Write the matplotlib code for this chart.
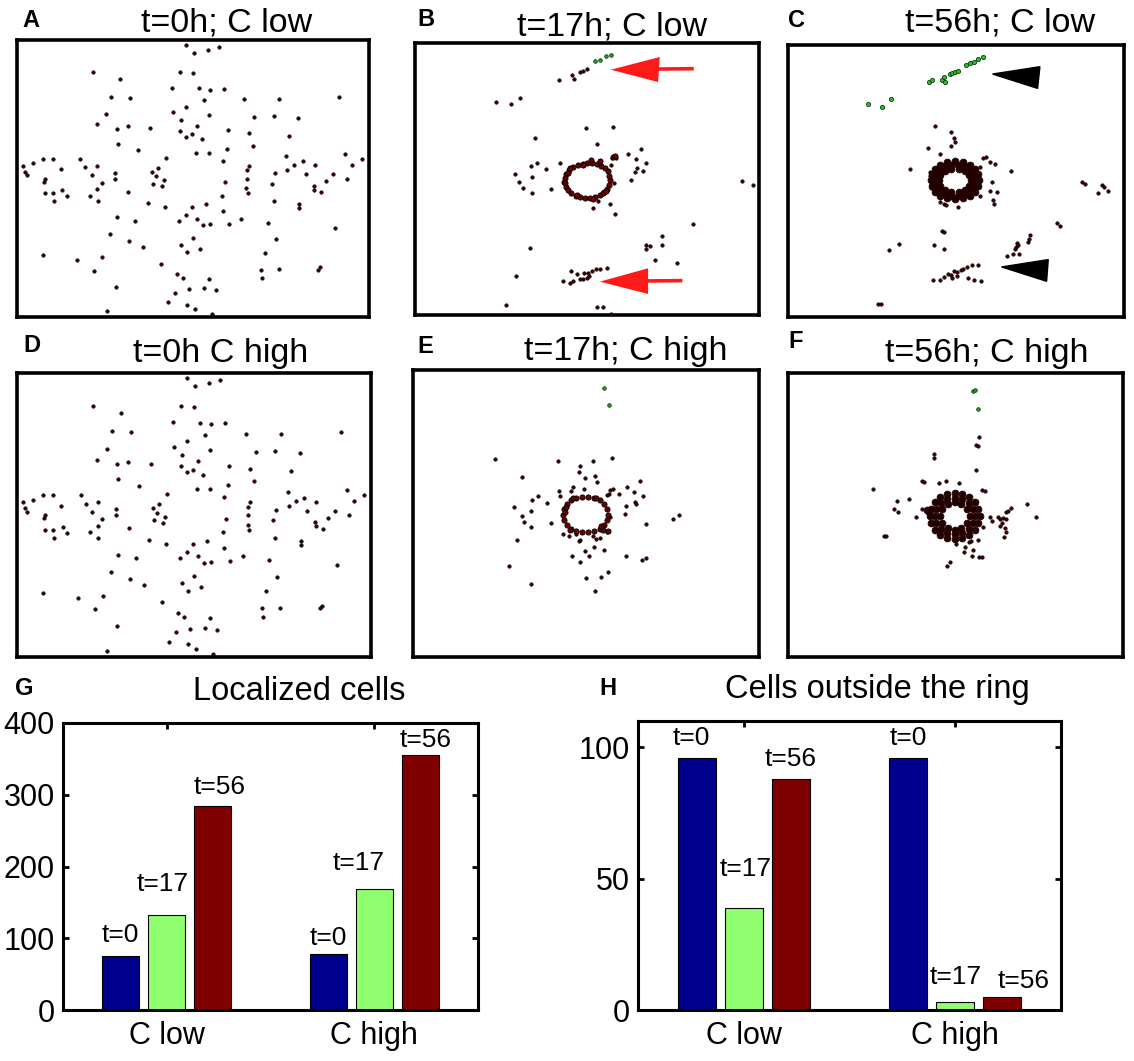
import matplotlib
matplotlib.use('Agg')
import matplotlib.pyplot as plt
from matplotlib.patches import Polygon

plt.rcParams['font.family'] = ['Liberation Sans', 'DejaVu Sans']

# ---------------- data ----------------
# initial (t=0) cell positions, read in panel-A image coordinates (same layout in A and D)
t0_x = [558, 583, 624, 657, 277, 541, 578, 361, 516, 598, 631, 671, 333, 391, 611, 733, 838, 1017,
        559, 518, 319, 627, 763, 821, 895, 290, 543, 350, 383, 451, 592, 541, 575, 559, 605, 685,
        747, 869, 353, 415, 759, 680, 588, 628, 860, 1035, 129, 158, 240, 98, 498, 669, 909, 1087,
        67, 73, 79, 182, 255, 291, 474, 457, 467, 746, 883, 945, 1056, 862, 275, 345, 824, 918,
        1000, 133, 130, 346, 492, 740, 1043, 304, 458, 485, 675, 740, 816, 978, 942, 291, 739, 186,
        944, 965, 135, 157, 199, 268, 385, 743, 666, 162, 292, 445, 822, 617, 898, 494, 575, 898,
        668, 351, 557, 405, 538, 592, 609, 629, 688, 724, 803, 1007, 331, 387, 580, 827, 430, 544,
        599, 561, 795, 129, 231, 306, 482, 282, 531, 548, 626, 782, 837, 961, 955, 786, 348, 566,
        612, 649, 524, 504, 561, 584, 320, 636]
t0_y = [135, 158, 150, 140, 217, 216, 220, 237, 263, 265, 269, 267, 290, 293, 300, 298, 297, 291,
        320, 336, 343, 345, 351, 348, 353, 373, 361, 387, 379, 385, 377, 392, 403, 410, 418, 391,
        400, 407, 431, 449, 437, 446, 460, 458, 468, 463, 478, 476, 476, 490, 475, 483, 484, 477,
        498, 515, 526, 508, 502, 497, 503, 515, 529, 497, 494, 496, 495, 509, 526, 518, 520, 522,
        522, 535, 545, 536, 540, 511, 535, 548, 551, 558, 546, 535, 551, 543, 556, 566, 563, 569,
        568, 576, 579, 579, 587, 586, 574, 578, 586, 603, 602, 607, 601, 610, 610, 619, 621, 622,
        632, 651, 643, 661, 662, 656, 674, 671, 670, 656, 667, 682, 702, 722, 714, 716, 740, 734,
        745, 756, 758, 763, 778, 771, 790, 811, 820, 832, 836, 808, 806, 800, 808, 834, 859, 867,
        864, 870, 878, 906, 913, 926, 933, 942]

# panel B (t=17h, C low)
b_green_x = [585, 600, 618, 633]
b_green_y = [185, 182, 168, 166]
b_x = [477, 517, 523, 540, 548, 563, 288, 333, 360, 558, 641, 406, 592, 724, 686, 710, 738, 713, 707,
       731, 694, 644, 648, 636, 633, 411, 394, 439, 480, 344, 396, 358, 370, 453, 396, 642, 594, 581,
       632, 647, 1026, 1060, 880, 787, 740, 750, 787, 740, 766, 833, 391, 348, 514, 530, 553, 566,
       576, 588, 600, 622, 489, 509, 520, 540, 548, 560, 567, 318, 591, 611, 634]
b_y = [240, 227, 238, 218, 214, 208, 306, 313, 296, 386, 383, 416, 434, 447, 464, 478, 489, 505, 518,
       513, 541, 470, 474, 476, 497, 491, 500, 509, 489, 523, 533, 547, 564, 566, 578, 548, 603, 623,
       613, 643, 544, 555, 673, 709, 734, 737, 736, 748, 779, 788, 743, 828, 812, 822, 818, 818, 812,
       808, 806, 804, 844, 848, 842, 836, 838, 834, 828, 916, 920, 920, 941]
b_ring_x = [631, 629, 624, 616, 605, 592, 578, 563, 548, 533, 520, 508, 499, 494, 493, 497, 504, 514,
            527, 541, 556, 571, 586, 600, 612, 622, 628, 575, 600, 510, 495, 530, 580, 610, 620, 505,
            550, 640, 645]
b_ring_y = [541, 528, 515, 505, 498, 494, 491, 490, 492, 496, 502, 511, 522, 534, 547, 560, 571, 580,
            587, 592, 595, 594, 591, 585, 577, 567, 555, 480, 484, 505, 550, 585, 598, 578, 572, 520,
            497, 473, 470]

# panel C (t=56h, C low)
c_green_x = [478, 486, 518, 522, 525, 540, 548, 555, 565, 588, 600, 612, 625, 638, 295, 338, 365]
c_green_y = [246, 240, 240, 232, 245, 222, 220, 215, 212, 195, 190, 185, 178, 172, 312, 320, 298]
c_x = [497, 545, 552, 557, 545, 476, 512, 640, 648, 660, 676, 630, 722, 421, 480, 482, 485, 665, 660,
       682, 668, 672, 631, 512, 522, 530, 563, 935, 946, 996, 1002, 985, 1015, 862, 870, 518, 522,
       387, 358, 494, 523, 780, 778, 775, 742, 738, 745, 735, 710, 730, 748, 490, 510, 522, 535, 545,
       552, 560, 572, 580, 592, 605, 625, 548, 560, 595, 612, 632, 325, 333]
c_y = [377, 397, 413, 427, 438, 445, 461, 474, 472, 485, 492, 500, 512, 508, 515, 528, 562, 545, 572,
       576, 598, 612, 588, 604, 610, 614, 621, 545, 550, 555, 560, 578, 572, 667, 677, 692, 694, 730,
       750, 735, 747, 703, 715, 725, 728, 740, 735, 745, 767, 760, 762, 840, 840, 830, 820, 825, 812,
       816, 808, 805, 800, 795, 793, 832, 828, 832, 840, 842, 910, 910]
c_ring_x = [627, 624, 615, 600, 580, 556, 532, 512, 497, 487, 484, 487, 497, 512, 532, 556, 580, 600,
            615, 624, 615, 611, 600, 584, 565, 545, 526, 510, 499, 495, 499, 510, 526, 545, 565, 584,
            600, 611, 603, 598, 585, 566, 545, 526, 512, 507, 512, 526, 545, 566, 585, 598]
c_ring_y = [540, 522, 506, 494, 486, 484, 486, 494, 506, 522, 540, 558, 574, 586, 594, 597, 594, 586,
            574, 558, 540, 523, 509, 499, 495, 495, 499, 509, 523, 540, 557, 571, 581, 586, 586, 581,
            571, 557, 540, 524, 512, 506, 506, 512, 524, 540, 556, 568, 574, 574, 568, 556]

# panel E (t=17h, C high)
e_green_x = [612, 627]
e_green_y = [203, 255]
e_x = [285, 475, 540, 579, 636, 537, 557, 587, 591, 366, 720, 682, 704, 731, 705, 710, 678, 675, 630,
       640, 627, 623, 657, 520, 552, 515, 477, 480, 414, 396, 443, 342, 393, 368, 374, 393, 453, 490,
       507, 530, 540, 537, 579, 590, 600, 352, 740, 820, 837, 582, 557, 568, 613, 517, 542, 678, 728,
       740, 328, 626, 603, 559, 395, 586, 630, 623]
e_y = [416, 422, 437, 422, 415, 455, 475, 468, 485, 472, 483, 502, 515, 527, 545, 552, 557, 581, 510,
       508, 523, 526, 521, 500, 507, 513, 512, 528, 528, 540, 548, 562, 573, 588, 606, 620, 607, 640,
       647, 640, 658, 662, 646, 655, 652, 660, 612, 596, 585, 679, 692, 706, 689, 707, 725, 706, 718,
       713, 737, 755, 771, 773, 790, 813, 590, 635]
e_ring_x = [624, 621, 613, 600, 584, 566, 548, 530, 514, 501, 493, 490, 493, 501, 514, 530, 548, 566,
            584, 600, 613, 621, 625, 610, 495, 500, 520, 590, 603, 512]
e_ring_y = [583, 566, 551, 540, 533, 530, 530, 533, 540, 551, 566, 583, 600, 615, 626, 633, 636, 636,
            633, 626, 615, 600, 633, 628, 575, 560, 535, 535, 617, 628]

# panel F (t=56h, C high)
f_green_x = [610, 615, 625]
f_green_y = [213, 208, 265]
f_x = [628, 620, 626, 492, 493, 619, 458, 464, 508, 530, 568, 637, 645, 310, 382, 418, 374, 386, 458,
       438, 343, 350, 660, 668, 640, 684, 690, 700, 710, 716, 725, 698, 706, 709, 704, 710, 690, 772,
       798, 558, 598, 604, 624, 585, 583, 611, 606, 628, 636, 542, 531]
f_y = [350, 376, 378, 402, 413, 450, 482, 486, 490, 484, 488, 511, 513, 508, 543, 538, 568, 575, 567,
       592, 647, 648, 592, 603, 622, 590, 597, 593, 575, 572, 565, 608, 623, 637, 652, 597, 617, 551,
       590, 673, 667, 664, 660, 682, 695, 690, 708, 710, 712, 725, 738]
f_ring_x = [630, 626, 615, 597, 577, 555, 533, 512, 495, 484, 480, 484, 495, 512, 533, 555, 577, 597,
            615, 626, 615, 610, 597, 578, 555, 532, 513, 500, 495, 500, 513, 532, 555, 578, 597, 610,
            600, 592, 575, 555, 535, 518, 510, 518, 535, 555, 575, 592, 478, 472]
f_ring_y = [588, 566, 546, 531, 523, 520, 523, 531, 546, 566, 588, 610, 630, 645, 653, 656, 653, 645,
            630, 610, 588, 566, 548, 537, 533, 537, 548, 566, 588, 610, 628, 639, 643, 639, 628, 610,
            588, 567, 552, 547, 552, 567, 588, 609, 624, 629, 624, 609, 575, 570]

# bar charts
groups = ['C low', 'C high']
time_labels = ['t=0', 't=17', 't=56']
localized_t0 = [75, 78]
localized_t17 = [132, 168]
localized_t56 = [285, 356]
outside_t0 = [96, 96]
outside_t17 = [39, 3]
outside_t56 = [88, 5]

# ---------------- layout ----------------
W, H = 1134, 1061
fig = plt.figure(figsize=(W / 100, H / 100), dpi=100)


def ax_px(l, t, r, b):
    return fig.add_axes([l / W, 1 - b / H, (r - l) / W, (b - t) / H])


def ftext(x, y, s, **kw):
    fig.text(x / W, 1 - y / H, s, **kw)


DOT = dict(s=6, facecolor='#4a0000', edgecolor='black', linewidths=0.5, zorder=3)
RING = dict(s=14, facecolor='#6a0000', edgecolor='black', linewidths=0.6, zorder=3)
THICK = dict(s=24, facecolor='#220000', edgecolor='#220000', linewidths=0.6, zorder=3)
GREEN = dict(s=7, facecolor='#1f9a1f', edgecolor='#0a3a0a', linewidths=0.5, zorder=4)


def scatter_panel(box, lims, pts, ring=None, green=None, ring_style=RING, green_style=GREEN):
    ax = ax_px(*box)
    ax.scatter(pts[0], pts[1], **DOT)
    if ring is not None:
        ax.scatter(ring[0], ring[1], **ring_style)
    if green is not None:
        ax.scatter(green[0], green[1], **green_style)
    ax.set_xlim(lims[0], lims[1])
    ax.set_ylim(lims[3], lims[2])
    ax.set_xticks([])
    ax.set_yticks([])
    for sp in ax.spines.values():
        sp.set_linewidth(2.6)
    return ax


axA = scatter_panel((17, 40, 369, 317), (50, 1108, 120, 950), (t0_x, t0_y))
axB = scatter_panel((415, 43, 759, 315), (45, 1078, 130, 945), (b_x, b_y),
                    ring=(b_ring_x, b_ring_y), green=(b_green_x, b_green_y))
axC = scatter_panel((788, 45, 1124, 317), (55, 1062, 135, 950), (c_x, c_y),
                    ring=(c_ring_x, c_ring_y), green=(c_green_x, c_green_y),
                    ring_style=THICK,
                    green_style=dict(s=9, facecolor='#2fbf2f', edgecolor='#0a3a0a', linewidths=0.6, zorder=4))
axD = scatter_panel((17, 373, 371, 657), (50, 1108, 120, 950), (t0_x, t0_y))
axE = scatter_panel((413, 370, 759, 657), (40, 1078, 150, 1010), (e_x, e_y),
                    ring=(e_ring_x, e_ring_y), green=(e_green_x, e_green_y))
axF = scatter_panel((788, 373, 1123, 657), (55, 1060, 158, 1012), (f_x, f_y),
                    ring=(f_ring_x, f_ring_y), green=(f_green_x, f_green_y),
                    ring_style=THICK)

# red arrows in B
for head, shaft in [([(633, 210), (780, 172), (775, 247)], ((770, 882), (208, 207))),
                    ([(600, 845), (745, 805), (745, 882)], ((740, 848), (843, 842)))]:
    axB.add_patch(Polygon(head, closed=True, facecolor='#ff1a1a', edgecolor='none', zorder=5))
    axB.plot(shaft[0], shaft[1], color='#ff1a1a', lw=2.6, solid_capstyle='butt', zorder=5)

# black arrowheads in C
for tri in [[(668, 222), (810, 200), (803, 265)], [(695, 800), (835, 778), (830, 843)]]:
    axC.add_patch(Polygon(tri, closed=True, facecolor='black', edgecolor='black', zorder=5))

# titles and panel letters
TFS = 24.5
ftext(227, 32, 't=0h; C low', ha='center', va='baseline', fontsize=TFS)
ftext(612, 35, 't=17h; C low', ha='center', va='baseline', fontsize=TFS)
ftext(1000, 32, 't=56h; C low', ha='center', va='baseline', fontsize=TFS)
ftext(221, 362, 't=0h C high', ha='center', va='baseline', fontsize=TFS)
ftext(626, 360, 't=17h; C high', ha='center', va='baseline', fontsize=TFS)
ftext(987, 362, 't=56h; C high', ha='center', va='baseline', fontsize=TFS)

LFS = 17
for lab, x, y in [('A', 22, 27), ('B', 417, 26), ('C', 788, 27), ('D', 23, 352), ('E', 417, 353),
                  ('F', 788, 348), ('G', 15, 695), ('H', 599, 695)]:
    ftext(x, y, lab, ha='left', va='baseline', fontsize=LFS, fontweight='bold')

ftext(299, 700, 'Localized cells', ha='center', va='baseline', fontsize=23.5)
ftext(877, 698, 'Cells outside the ring', ha='center', va='baseline', fontsize=23.5)

# bar charts
colors = ['#00008f', '#8fff6f', '#800000']
offsets = [-0.222, 0.0, 0.222]
bw = 0.178


def bar_panel(box, series, ylim, yticks, label_off):
    ax = ax_px(*box)
    xs = [1, 2]
    for i, vals in enumerate(series):
        pos = [x + offsets[i] for x in xs]
        ax.bar(pos, vals, width=bw, color=colors[i], edgecolor='black', linewidth=0.8, zorder=2)
        for j in range(2):
            dx, dy = label_off[j][i]
            ax.annotate(time_labels[i], xy=(pos[j], vals[j]), xytext=(dx, dy),
                        textcoords='offset pixels', ha='center', va='baseline',
                        fontsize=19, zorder=4)
    ax.set_xlim(0.5, 2.5)
    ax.set_ylim(*ylim)
    ax.set_xticks(xs)
    ax.set_xticklabels(groups, fontsize=22)
    ax.set_yticks(yticks)
    ax.tick_params(axis='y', labelsize=22, pad=6)
    ax.tick_params(axis='x', pad=8)
    ax.tick_params(direction='in', length=4, width=2, top=True, right=True)
    for sp in ax.spines.values():
        sp.set_linewidth(2.2)
    return ax


bar_panel((63, 723, 478, 1010), [localized_t0, localized_t17, localized_t56], (0, 400),
          [0, 100, 200, 300, 400],
          [[(0, 14), (-4, 24), (7, 12)], [(0, 9), (-16, 19), (5, 8)]])
bar_panel((638, 721, 1061, 1010), [outside_t0, outside_t17, outside_t56], (0, 110),
          [0, 50, 100],
          [[(-5, 13), (2, 32), (0, 13)], [(0, 13), (0, 18), (21, 9)]])

fig.savefig('out.png', dpi=100)
